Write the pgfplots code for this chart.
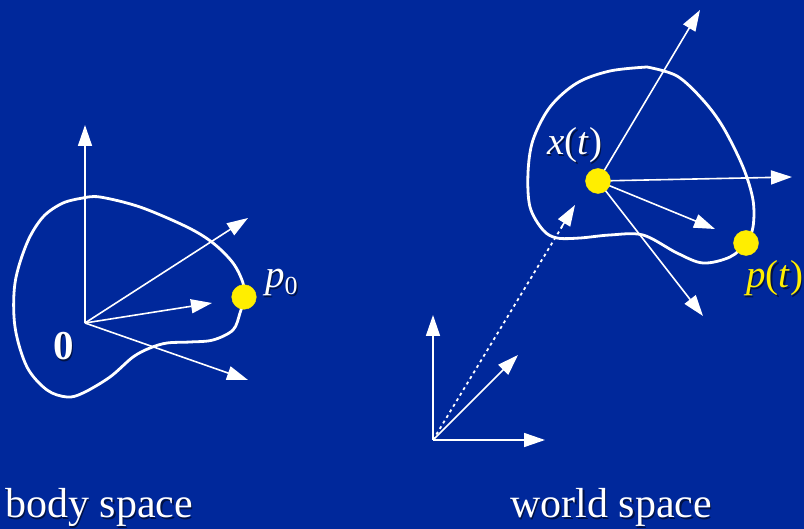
\documentclass[border=0pt]{standalone}
\usepackage{pgfplots}
\pgfplotsset{compat=1.18}
\usetikzlibrary{arrows.meta}
\usepackage{fontspec}
\setmainfont{Liberation Serif}
\definecolor{bgblue}{RGB}{0,40,155}
\definecolor{dotyellow}{RGB}{255,238,0}
\tikzset{arr/.style={white, line width=1.6pt, -{Triangle[length=21pt,width=14pt]}},
  shad/.style={black, opacity=0.55}}
\newcommand{\bigtxt}{\fontsize{42}{46}\selectfont}
\newcommand{\labtxt}{\fontsize{39}{42}\selectfont}
\newcommand{\subz}{\raisebox{-7pt}{\fontsize{26}{28}\selectfont 0}}
\begin{document}
\begin{tikzpicture}
\begin{axis}[name=ax, width=804pt, height=529pt, scale only axis,
  xmin=0, xmax=804, ymin=0, ymax=529, y dir=reverse, hide axis, clip=false]
% background
\addplot[fill=bgblue, draw=none] coordinates {(0,0)(804,0)(804,529)(0,529)} -- cycle;
% ---------- body space ----------
\addplot[white, line width=2.8pt, smooth, tension=0.55] coordinates {
(83,198)(100,197)(140,207)(187,227)(213,243)(233,263)(243,283)(244,298)(240,313)(233,330)(213,340)(190,342)(167,343)(150,348)(133,357)(110,377)(83,393)(67,397)(47,390)(27,367)(15,327)(15,283)(27,243)(43,217)(63,203)(83,198)};
\addplot[arr] coordinates {(85,323)(85,125)};
\addplot[arr] coordinates {(85,323)(248,218)};
\addplot[arr] coordinates {(85,323)(212,303)};
\addplot[arr] coordinates {(85,323)(248,380)};
\addplot[only marks, mark=*, mark size=12.3pt, mark options={fill=dotyellow, draw=dotyellow}] coordinates {(244,297)};
% ---------- world space ----------
\addplot[white, line width=2.8pt, smooth, tension=0.55] coordinates {
(647,67)(677,76)(703,100)(723,127)(743,167)(753,200)(753,227)(746,243)(730,257)(703,263)(677,253)(643,235)(610,235)(580,238)(557,238)(543,230)(530,207)(528,173)(533,140)(550,107)(577,83)(610,71)(647,67)};
\addplot[arr] coordinates {(433,440)(433,315)};
\addplot[arr] coordinates {(433,440)(545,440)};
\addplot[arr] coordinates {(433,440)(518,355)};
\addplot[white, line width=1.8pt, dash pattern=on 3pt off 3.5pt] coordinates {(433,440)(563,225)};
\addplot[arr] coordinates {(561,228)(575,205)};
\addplot[arr] coordinates {(598,181)(700,10)};
\addplot[arr] coordinates {(598,181)(792,177)};
\addplot[arr] coordinates {(598,181)(715,229)};
\addplot[arr] coordinates {(598,181)(703,316)};
\addplot[only marks, mark=*, mark size=12.5pt, mark options={fill=dotyellow, draw=dotyellow}] coordinates {(598,181)(746,243)};
% ---------- labels ----------
\node[shad, anchor=base west, inner sep=0] at (axis cs:6.5,519.5) {\bigtxt body space};
\node[white, anchor=base west, inner sep=0] at (axis cs:5,518) {\bigtxt body space};
\node[shad, anchor=base west, inner sep=0] at (axis cs:511.5,519.5) {\bigtxt world space};
\node[white, anchor=base west, inner sep=0] at (axis cs:510,518) {\bigtxt world space};
\node[shad, anchor=base, inner sep=0] at (axis cs:65,361.5) {\fontsize{41}{44}\selectfont\bfseries 0};
\node[white, anchor=base, inner sep=0] at (axis cs:63.5,360) {\fontsize{41}{44}\selectfont\bfseries 0};
\node[shad, anchor=base west, inner sep=0] at (axis cs:266.5,289.5) {\labtxt\textit{p}\subz};
\node[white, anchor=base west, inner sep=0] at (axis cs:265,288) {\labtxt\textit{p}\subz};
\node[shad, anchor=base west, inner sep=0] at (axis cs:548.5,156.5) {\labtxt\textit{x}(\textit{t})};
\node[white, anchor=base west, inner sep=0] at (axis cs:547,155) {\labtxt\textit{x}(\textit{t})};
\node[shad, anchor=base west, inner sep=0] at (axis cs:747.5,289.5) {\labtxt\textit{p}(\textit{t})};
\node[dotyellow, anchor=base west, inner sep=0] at (axis cs:746,288) {\labtxt\textit{p}(\textit{t})};
\end{axis}
\pgfresetboundingbox
\path (ax.south west) rectangle (ax.north east);
\end{tikzpicture}
\end{document}
